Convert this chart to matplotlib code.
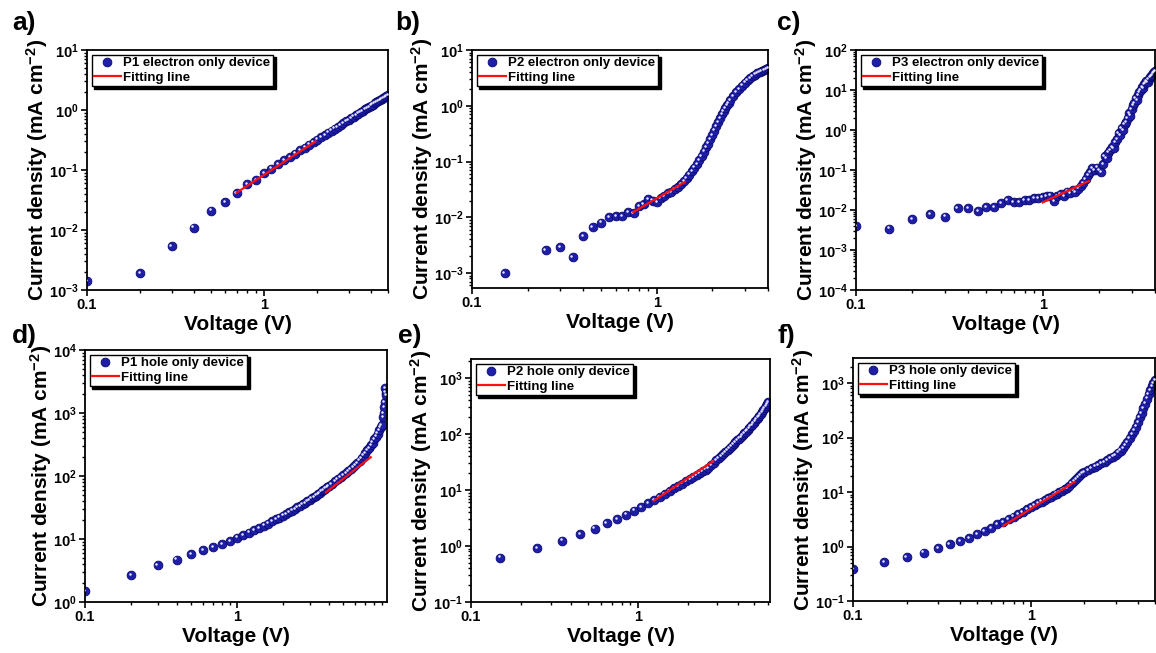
import matplotlib
matplotlib.use('Agg')
import matplotlib.pyplot as plt
import numpy as np
from matplotlib import transforms
from matplotlib.lines import Line2D
from matplotlib.ticker import LogLocator, NullFormatter, LogFormatterSciNotation, FixedLocator, FixedFormatter

# ---- data (V in volts, J in mA cm^-2) ----
a_v = [0.1, 0.2, 0.3, 0.4, 0.5, 0.6, 0.7, 0.8, 0.9, 1.0,
       1.1, 1.2, 1.3, 1.4, 1.5, 1.6, 1.7, 1.8, 1.9, 2.0,
       2.1, 2.2, 2.3, 2.4, 2.5, 2.6, 2.7, 2.8, 2.9, 3.0,
       3.1, 3.2, 3.3, 3.4, 3.5, 3.6, 3.7, 3.8, 3.9, 4.0,
       4.1, 4.2, 4.3, 4.4, 4.5, 4.6, 4.7, 4.8, 4.9, 5.0]
a_j = [1.4e-3, 1.9e-3, 5.4e-3, 1.1e-2, 2.1e-2, 2.9e-2, 4.1e-2, 5.8e-2, 6.8e-2, 8.8e-2,
       0.105, 0.124, 0.144, 0.165, 0.188, 0.212, 0.237, 0.264, 0.292, 0.322,
       0.352, 0.385, 0.418, 0.452, 0.488, 0.525, 0.563, 0.603, 0.644, 0.686,
       0.730, 0.774, 0.820, 0.868, 0.916, 0.965, 1.02, 1.07, 1.12, 1.18,
       1.23, 1.29, 1.35, 1.41, 1.47, 1.53, 1.59, 1.65, 1.71, 1.77]

b_v = [0.15, 0.25, 0.3, 0.35, 0.4, 0.45, 0.5, 0.55, 0.6, 0.65,
       0.7, 0.75, 0.8, 0.85, 0.9, 0.95, 1.0, 1.05, 1.1, 1.15,
       1.2, 1.25, 1.3, 1.35, 1.4, 1.45, 1.5, 1.55, 1.6, 1.65,
       1.7, 1.75, 1.8, 1.85, 1.9, 1.95, 2.0, 2.05, 2.1, 2.15,
       2.2, 2.25, 2.3, 2.35, 2.4, 2.45, 2.5, 2.6, 2.7, 2.8,
       2.9, 3.0, 3.1, 3.2, 3.3, 3.4, 3.5, 3.6, 3.7, 3.8,
       3.9, 4.0]
b_j = [1.0e-3, 2.6e-3, 2.9e-3, 1.95e-3, 4.6e-3, 6.7e-3, 8.0e-3, 1.0e-2, 1.04e-2, 1.04e-2,
       1.24e-2, 1.2e-2, 1.6e-2, 1.7e-2, 2.1e-2, 2.0e-2, 1.9e-2, 2.2e-2, 2.4e-2, 2.7e-2,
       2.8e-2, 3.2e-2, 3.5e-2, 3.9e-2, 4.4e-2, 5.0e-2, 5.8e-2, 6.7e-2, 7.8e-2, 9.0e-2,
       0.105, 0.125, 0.15, 0.18, 0.21, 0.25, 0.30, 0.36, 0.43, 0.51,
       0.60, 0.70, 0.80, 0.91, 1.02, 1.13, 1.25, 1.5, 1.75, 2.0,
       2.3, 2.6, 2.85, 3.1, 3.35, 3.6, 3.8, 4.0, 4.2, 4.4,
       4.6, 4.8]

c_v = [0.1, 0.15, 0.2, 0.25, 0.3, 0.35, 0.4, 0.45, 0.5, 0.55,
       0.6, 0.65, 0.7, 0.75, 0.8, 0.85, 0.9, 0.95, 1.0, 1.05,
       1.1, 1.15, 1.2, 1.25, 1.3, 1.35, 1.4, 1.45, 1.5, 1.55,
       1.6, 1.65, 1.7, 1.75, 1.8, 1.85, 1.9, 1.95, 2.0, 2.05,
       2.1, 2.15, 2.2, 2.25, 2.3, 2.35, 2.4, 2.45, 2.5, 2.55,
       2.6, 2.65, 2.7, 2.75, 2.8, 2.85, 2.9, 2.95, 3.0, 3.05,
       3.1, 3.15, 3.2, 3.25, 3.3, 3.35, 3.4, 3.45, 3.5, 3.55,
       3.6, 3.65, 3.7, 3.75, 3.8, 3.85, 3.9, 3.95, 4.0]
c_j = [4.0e-3, 3.4e-3, 6.0e-3, 7.8e-3, 6.8e-3, 1.1e-2, 1.1e-2, 9.4e-3, 1.2e-2, 1.2e-2,
       1.5e-2, 1.75e-2, 1.6e-2, 1.6e-2, 1.8e-2, 1.8e-2, 1.95e-2, 2.0e-2, 2.1e-2, 2.2e-2,
       2.3e-2, 1.65e-2, 2.2e-2, 2.5e-2, 2.2e-2, 2.9e-2, 2.6e-2, 3.1e-2, 2.8e-2, 3.4e-2,
       3.9e-2, 4.8e-2, 6.0e-2, 7.5e-2, 8.8e-2, 0.11, 0.10, 0.115, 0.10, 0.09,
       0.14, 0.22, 0.20, 0.27, 0.32, 0.38, 0.35, 0.50, 0.60, 0.85,
       0.75, 1.1, 1.0, 1.4, 1.6, 2.0, 2.6, 2.3, 3.3, 4.2,
       4.8, 6.2, 5.5, 7.5, 8.8, 10, 12, 11, 14, 15,
       17, 16, 19, 21, 22, 24, 26, 28, 30]

d_v = [0.1, 0.2, 0.3, 0.4, 0.5, 0.6, 0.7, 0.8, 0.9, 1.0,
       1.1, 1.2, 1.3, 1.4, 1.5, 1.6, 1.7, 1.8, 1.9, 2.0,
       2.1, 2.2, 2.3, 2.4, 2.5, 2.6, 2.7, 2.8, 2.9, 3.0,
       3.1, 3.2, 3.3, 3.4, 3.5, 3.6, 3.7, 3.8, 3.9, 4.0,
       4.2, 4.4, 4.6, 4.8, 5.0, 5.2, 5.4, 5.6, 5.8, 6.0,
       6.2, 6.4, 6.6, 6.8, 7.0, 7.2, 7.4, 7.6, 7.8, 8.0,
       8.2, 8.4, 8.6, 8.8, 8.95, 9.1, 9.2, 9.3, 9.35, 9.4,
       9.5, 9.6]
d_j = [1.5, 2.7, 3.8, 4.7, 5.7, 6.6, 7.4, 8.4, 9.3, 10.5,
       11.5, 12.6, 13.8, 15.0, 16.3, 17.6, 19.0, 20.4, 21.9, 23.5,
       25.0, 26.6, 28.2, 30.0, 31.8, 33.7, 35.6, 37.6, 39.6, 41.5,
       44, 46.5, 49, 51.5, 54, 57, 60, 63, 66, 69,
       75, 82, 89, 96, 104, 112, 120, 129, 139, 150,
       162, 175, 190, 210, 233, 255, 280, 305, 340, 380,
       420, 470, 530, 590, 650, 850, 1000, 1250, 1500, 2500,
       2100, 1900]

e_v = [0.15, 0.25, 0.35, 0.45, 0.55, 0.65, 0.75, 0.85, 0.95, 1.05,
       1.15, 1.25, 1.35, 1.45, 1.55, 1.65, 1.75, 1.85, 1.95, 2.05,
       2.15, 2.25, 2.35, 2.45, 2.55, 2.65, 2.75, 2.85, 2.95, 3.05,
       3.15, 3.25, 3.35, 3.45, 3.55, 3.65, 3.75, 3.85, 3.95, 4.05,
       4.15, 4.25, 4.35, 4.45, 4.55, 4.65, 4.75, 4.85, 4.95, 5.05,
       5.15, 5.25, 5.35, 5.45, 5.55, 5.65, 5.75, 5.85, 5.95, 6.05]
e_j = [0.62, 0.92, 1.25, 1.65, 2.05, 2.55, 3.05, 3.65, 4.3, 5.0,
       5.8, 6.7, 7.6, 8.5, 9.6, 10.7, 11.9, 13.1, 14.3, 15.6,
       17.0, 18.4, 19.9, 21.5, 23.2, 25.0, 27.5, 31.0, 34.5, 37.5,
       41, 44.5, 48, 52, 56, 61, 66, 71, 77, 83,
       89, 96, 103, 111, 119, 128, 137, 147, 158, 170,
       183, 197, 212, 228, 246, 266, 288, 312, 340, 370]

f_v = [0.1, 0.15, 0.2, 0.25, 0.3, 0.35, 0.4, 0.45, 0.5, 0.55,
       0.6, 0.65, 0.7, 0.75, 0.8, 0.85, 0.9, 0.95, 1.0, 1.05,
       1.1, 1.15, 1.2, 1.25, 1.3, 1.35, 1.4, 1.45, 1.5, 1.55,
       1.6, 1.65, 1.7, 1.75, 1.8, 1.85, 1.9, 1.95, 2.0, 2.1,
       2.2, 2.3, 2.4, 2.5, 2.6, 2.7, 2.8, 2.9, 3.0, 3.1,
       3.2, 3.3, 3.4, 3.5, 3.6, 3.7, 3.8, 3.9, 4.0, 4.1,
       4.2, 4.3, 4.4, 4.5, 4.6, 4.7, 4.8, 4.9, 5.0]
f_j = [0.38, 0.51, 0.63, 0.77, 0.93, 1.1, 1.26, 1.45, 1.69, 1.95,
       2.2, 2.55, 2.85, 3.2, 3.55, 3.9, 4.3, 4.8, 5.3, 5.8,
       6.2, 6.7, 7.2, 7.7, 8.2, 8.8, 9.4, 10.0, 10.6, 11.3,
       12.0, 13.0, 14.5, 16.0, 17.5, 19.0, 20.5, 22.0, 23.5, 25.5,
       27.5, 29.5, 31.5, 34, 36, 39, 42, 45, 48, 53,
       58, 65, 74, 84, 98, 115, 135, 160, 194, 235,
       285, 345, 420, 520, 620, 740, 870, 1000, 1130]

# fitting lines (end points, straight in log-log)
fit_a_v, fit_a_j = [0.7, 1.95], [0.042, 0.30]
fit_b_v, fit_b_j = [0.745, 1.42], [0.0124, 0.043]
fit_c_v, fit_c_j = [1.0, 1.77], [0.0155, 0.053]
fit_d_v, fit_d_j = [3.85, 7.58], [55, 199]
fit_e_v, fit_e_j = [1.25, 2.83], [6.5, 33]
fit_f_v, fit_f_j = [0.7, 1.77], [2.4, 15.5]

panel_tags = ['a)', 'b)', 'c)', 'd)', 'e)', 'f)']
legend_labels = ['P1 electron only device', 'P2 electron only device', 'P3 electron only device',
                 'P1 hole only device', 'P2 hole only device', 'P3 hole only device']
x_ticks = [0.1, 1]
x_tick_labels = ['0.1', '1']

plt.rcParams.update({
    'font.family': ['Liberation Sans', 'DejaVu Sans'],
    'font.weight': 'bold',
    'axes.labelweight': 'bold',
    'mathtext.fontset': 'custom',
    'mathtext.rm': 'Liberation Sans:bold',
    'mathtext.bf': 'Liberation Sans:bold',
    'mathtext.it': 'Liberation Sans:bold:italic',
    'mathtext.default': 'bf',
    'axes.linewidth': 1.3,
})

W, H = 1156, 653
fig = plt.figure(figsize=(W / 100, H / 100), dpi=100)

# axes boxes in pixels: left, top, right, bottom
boxes = [(87, 50, 388, 290), (472, 50, 768, 288), (856, 50, 1155, 290),
         (85, 350, 387, 602), (471, 359, 770, 602), (853, 358, 1155, 601)]
xlims = [(0.1, 5.0), (0.1, 4.0), (0.1, 4.0), (0.1, 9.7), (0.1, 6.2), (0.1, 5.0)]
ylims = [(1e-3, 10), (5.4e-4, 10), (1e-4, 100), (1, 1e4), (0.1, 2200), (0.1, 2900)]
tag_pos = [(12, 23), (395, 23), (777, 23), (12, 336), (398, 336), (777, 336)]

series = [(a_v, a_j, fit_a_v, fit_a_j), (b_v, b_j, fit_b_v, fit_b_j), (c_v, c_j, fit_c_v, fit_c_j),
          (d_v, d_j, fit_d_v, fit_d_j), (e_v, e_j, fit_e_v, fit_e_j), (f_v, f_j, fit_f_v, fit_f_j)]

ball = '#1e1ea8'
ball_edge = '#0a0a6e'
msize = 6.3

for i, (v, j, fv, fj) in enumerate(series):
    l, t, r, b = boxes[i]
    ax = fig.add_axes([l / W, 1 - b / H, (r - l) / W, (b - t) / H])
    ax.set_xscale('log')
    ax.set_yscale('log')

    ax.plot(v, j, 'o', ms=msize, color=ball, mec=ball_edge, mew=0.6, zorder=2)
    shine = transforms.offset_copy(ax.transData, fig=fig, x=-0.9, y=0.9, units='points')
    ax.plot(v, j, 'o', ms=1.8, color='#e8e8ff', mew=0, transform=shine, zorder=3)
    ax.plot(fv, fj, '-', color='#ff1010', lw=1.6, zorder=4)

    ax.set_xlim(*xlims[i])
    ax.set_ylim(*ylims[i])

    ax.xaxis.set_major_locator(FixedLocator(x_ticks))
    ax.xaxis.set_major_formatter(FixedFormatter(x_tick_labels))
    ax.xaxis.set_minor_locator(LogLocator(base=10, subs=np.arange(2, 10), numticks=20))
    ax.xaxis.set_minor_formatter(NullFormatter())
    ax.yaxis.set_major_locator(LogLocator(base=10, numticks=20))
    ax.yaxis.set_major_formatter(LogFormatterSciNotation())
    ax.yaxis.set_minor_locator(LogLocator(base=10, subs=np.arange(2, 10), numticks=20))
    ax.yaxis.set_minor_formatter(NullFormatter())

    ax.tick_params(which='major', direction='out', length=4.5, width=1.2, labelsize=10.5, pad=1.5)
    ax.tick_params(which='minor', direction='out', length=2.5, width=1.0)
    ax.tick_params(top=False, right=False, which='both')

    ax.set_xlabel('Voltage (V)', fontsize=15, labelpad=2)
    ax.set_ylabel('Current density (mA cm$^{-2}$)', fontsize=15, labelpad=-1)

    handles = [Line2D([], [], ls='none', marker='o', ms=msize, color=ball, mec=ball_edge, mew=0.6),
               Line2D([], [], color='#ff1010', lw=1.6)]
    leg = ax.legend(handles, [legend_labels[i], 'Fitting line'], loc='upper left',
                    fontsize=9.5, frameon=True, fancybox=False, edgecolor='black',
                    shadow={'color': 'black', 'alpha': 1.0}, framealpha=1,
                    handlelength=2.0, handletextpad=0.2, borderpad=0.2,
                    labelspacing=0.15, borderaxespad=0.35)
    leg.get_frame().set_linewidth(1.0)

    tx, ty = tag_pos[i]
    fig.text(tx / W, 1 - ty / H, panel_tags[i], fontsize=19, fontweight='bold',
             ha='left', va='center')

fig.savefig('out.png', dpi=100)
